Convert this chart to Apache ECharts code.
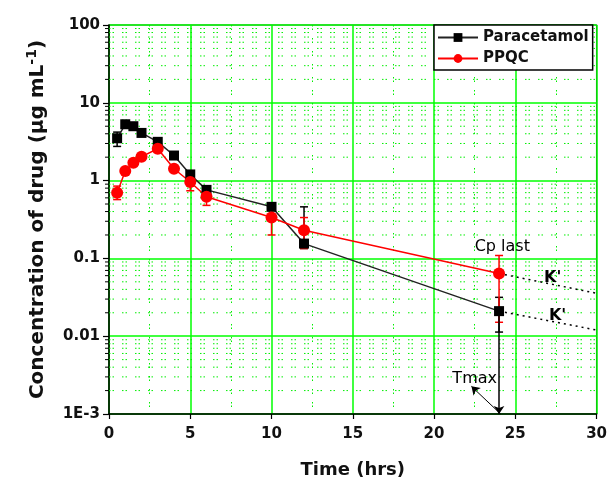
<!DOCTYPE html>
<html><head><meta charset="utf-8">
<script src="https://cdn.jsdelivr.net/npm/echarts@6/dist/echarts.min.js"></script>
<style>html,body{margin:0;padding:0;background:#fff}#c{width:610px;height:484px}</style>
</head><body><div id="c"></div>
<script>
// ---- data ----
const times = [0.5, 1, 1.5, 2, 3, 4, 5, 6, 10, 12, 24];
const paracetamol = [3.5, 5.3, 5.0, 4.1, 3.15, 2.1, 1.2, 0.76, 0.46, 0.155, 0.021];
const paracetamolLow = [2.75, null, null, null, null, null, null, null, 0.42, 0.134, 0.0113];
const paracetamolHigh = [4.2, null, null, null, null, null, null, null, 0.5, 0.46, 0.0316];
const ppqc = [0.70, 1.33, 1.70, 2.03, 2.57, 1.42, 0.96, 0.62, 0.335, 0.23, 0.064];
const ppqcLow = [0.57, null, null, null, 2.3, null, 0.74, 0.48, 0.2, 0.134, 0.0151];
const ppqcHigh = [0.85, null, null, null, 2.85, null, 1.18, 0.78, 0.47, 0.335, 0.109];
const kPpqc = [[24, 0.064], [30, 0.0356]];
const kPara = [[24, 0.021], [30, 0.012]];
const tmaxLine = [[24, 0.021], [24, 0.001]];
const tmaxArrow = [[24.1, 0.001], [22.3, 0.00227]];
const annotations = [
  {name: 'Cp last', value: [24.2, 0.14], bold: false},
  {name: "K'", value: [27.3, 0.056], bold: true},
  {name: "K'", value: [27.6, 0.0185], bold: true},
  {name: 'Tmax', value: [22.5, 0.0028], bold: false}
];
const yMinor = [];
[0.001, 0.01, 0.1, 1, 10].forEach(d => { for (let k = 2; k <= 9; k++) yMinor.push(+(d * k).toPrecision(3)); });
const xRange = [0, 30];
const yRange = [0.001, 100];

const FONT = 'DejaVu Sans';
const chart = echarts.init(document.getElementById('c'));

function errSeries(name, lo, hi, color) {
  const data = [];
  times.forEach((t, i) => { if (lo[i] != null) data.push([t, lo[i], hi[i]]); });
  return {
    type: 'custom', name: name, z: 4, silent: true,
    data: data,
    renderItem: function (params, api) {
      const t = api.value(0);
      const a = api.coord([t, api.value(2)]);
      const b = api.coord([t, api.value(1)]);
      const w = 4;
      const st = {stroke: color, lineWidth: 1.5};
      return {type: 'group', children: [
        {type: 'line', shape: {x1: a[0], y1: a[1], x2: b[0], y2: b[1]}, style: st},
        {type: 'line', shape: {x1: a[0] - w, y1: a[1], x2: a[0] + w, y2: a[1]}, style: st},
        {type: 'line', shape: {x1: b[0] - w, y1: b[1], x2: b[0] + w, y2: b[1]}, style: st}
      ]};
    }
  };
}

const dotDash = [1.5, 2, 1.5, 8];

chart.setOption({
  animation: false,
  grid: {left: 109, right: 12, top: 25, bottom: 69, show: true, borderColor: '#333', borderWidth: 1.2},
  legend: {
    data: ['Paracetamol', 'PPQC'], orient: 'vertical', left: 434, top: 25,
    backgroundColor: '#fff', borderColor: '#000', borderWidth: 1.5,
    padding: [5, 4, 4, 3], itemGap: 6, itemWidth: 40, itemHeight: 11,
    textStyle: {fontFamily: FONT, fontWeight: 'bold', fontSize: 15, color: '#111'}
  },
  xAxis: {
    type: 'value', min: xRange[0], max: xRange[1], interval: 5,
    name: 'Time (hrs)', nameLocation: 'middle', nameGap: 47,
    nameTextStyle: {fontFamily: FONT, fontWeight: 'bold', fontSize: 18, color: '#111'},
    axisLine: {lineStyle: {color: '#000', width: 1.5}},
    axisTick: {show: true, length: 5, lineStyle: {color: '#000', width: 1.2}},
    axisLabel: {fontFamily: FONT, fontWeight: 'bold', fontSize: 15, color: '#111', margin: 13},
    splitLine: {show: true, lineStyle: {color: '#00ff00', width: 1.5}},
    minorTick: {show: false, splitNumber: 2},
    minorSplitLine: {show: true, lineStyle: {color: '#00ee00', width: 1, type: dotDash}}
  },
  yAxis: {
    type: 'log', logBase: 10, min: yRange[0], max: yRange[1],
    name: 'Concentration of drug (μg mL{sup|-1})', nameLocation: 'middle', nameGap: 58,
    nameTextStyle: {fontFamily: FONT, fontWeight: 'bold', fontSize: 20, color: '#111',
      rich: {sup: {fontFamily: FONT, fontWeight: 'bold', fontSize: 14, color: '#111', padding: [0, 0, 12, 0]}}},
    axisLine: {show: true, lineStyle: {color: '#000', width: 1.5}},
    axisTick: {show: true, length: 6, lineStyle: {color: '#000', width: 1.2}},
    axisLabel: {fontFamily: FONT, fontWeight: 'bold', fontSize: 15, color: '#111', margin: 9,
      formatter: v => v < 0.0015 ? '1E-3' : String(+v.toPrecision(3))},
    splitLine: {show: true, lineStyle: {color: '#00ff00', width: 1.5}}
  },
  series: [
    {
      type: 'custom', name: 'minor', silent: true, z: 1, data: yMinor.map(v => [v]),
      renderItem: function (params, api) {
        const v = api.value(0);
        const a = api.coord([xRange[0], v]);
        const b = api.coord([xRange[1], v]);
        return {type: 'group', children: [
          {type: 'line', shape: {x1: a[0], y1: a[1], x2: b[0], y2: b[1]}, style: {stroke: '#00ee00', lineWidth: 1, lineDash: dotDash}},
          {type: 'line', shape: {x1: a[0] - 4, y1: a[1], x2: a[0], y2: a[1]}, style: {stroke: '#000', lineWidth: 1}}
        ]};
      },
      encode: {y: 0}
    },
    {
      name: 'Paracetamol', type: 'line', z: 5,
      data: times.map((t, i) => [t, paracetamol[i]]),
      symbol: 'rect', symbolSize: 10, color: '#000',
      itemStyle: {color: '#000'}, lineStyle: {color: '#222', width: 1.5}
    },
    {
      name: 'PPQC', type: 'line', z: 5,
      data: times.map((t, i) => [t, ppqc[i]]),
      symbol: 'circle', symbolSize: 12, color: '#ff0000',
      itemStyle: {color: '#ff0000'}, lineStyle: {color: '#ff0000', width: 1.5}
    },
    errSeries('errPara', paracetamolLow, paracetamolHigh, '#000'),
    errSeries('errPpqc', ppqcLow, ppqcHigh, '#ff0000'),
    {type: 'line', name: 'kp', data: kPpqc, symbol: 'none', z: 3, silent: true,
      lineStyle: {color: '#000', width: 1.5, type: [2, 4]}},
    {type: 'line', name: 'kq', data: kPara, symbol: 'none', z: 3, silent: true,
      lineStyle: {color: '#000', width: 1.5, type: [2, 4]}},
    {type: 'lines', coordinateSystem: 'cartesian2d', z: 6, silent: true,
      symbol: ['none', 'arrow'], symbolSize: 8,
      lineStyle: {color: '#000', width: 1.5, opacity: 1},
      data: [{coords: tmaxLine}, {coords: tmaxArrow, lineStyle: {width: 1}}]},
    {type: 'scatter', name: 'ann', symbolSize: 0, z: 7, silent: true,
      data: annotations.map(a => ({name: a.name, value: a.value,
        label: {fontWeight: a.bold ? 'bold' : 'normal'}})),
      label: {show: true, position: 'inside', formatter: '{b}', fontFamily: FONT, fontSize: 16, color: '#000', opacity: 1}}
  ]
});
</script></body></html>
